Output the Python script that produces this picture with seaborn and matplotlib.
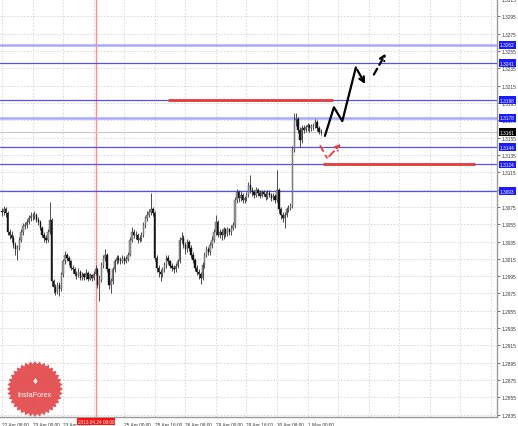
import numpy as np
import pandas as pd
import seaborn as sns
import matplotlib.pyplot as plt
from matplotlib.patches import Polygon

# H1 candles, 22 Apr 08:00 .. 1 May 00:00+ (bar index = hours, weekend skipped)
closes = [1.3069, 1.3072, 1.3068, 1.3046, 1.3043, 1.3039, 1.3031, 1.3026, 1.3028, 1.3037,
          1.3046, 1.3053, 1.3054, 1.3058, 1.3062, 1.3065, 1.3064, 1.3066, 1.3060, 1.3058,
          1.3051, 1.3043, 1.3039, 1.3037, 1.3046, 1.3060, 1.2989, 1.2982, 1.2977, 1.2985,
          1.2980, 1.2997, 1.3012, 1.3020, 1.3016, 1.3012, 1.3005, 1.3003, 1.2998, 1.2996,
          1.3000, 1.2993, 1.2997, 1.2994, 1.2999, 1.2992, 1.2996, 1.2993, 1.2998, 1.3003,
          1.2985, 1.2991, 1.3008, 1.3016, 1.3020, 1.3003, 1.2985, 1.2989, 1.3003, 1.3012,
          1.3016, 1.3014, 1.3012, 1.3016, 1.3012, 1.3015, 1.3020, 1.3037, 1.3046, 1.3043,
          1.3042, 1.3037, 1.3039, 1.3043, 1.3054, 1.3062, 1.3066, 1.3069, 1.3072, 1.3068,
          1.3016, 1.3005, 1.3000, 1.2997, 1.3003, 1.3008, 1.3016, 1.3012, 1.3007, 1.3005,
          1.3003, 1.3007, 1.3012, 1.3037, 1.3039, 1.3031, 1.3026, 1.3035, 1.3028, 1.3020,
          1.3014, 1.3005, 1.3000, 1.2997, 1.2993, 1.3008, 1.3020, 1.3026, 1.3023, 1.3031,
          1.3037, 1.3046, 1.3058, 1.3043, 1.3046, 1.3042, 1.3049, 1.3044, 1.3049, 1.3046,
          1.3051, 1.3054, 1.3083, 1.3092, 1.3085, 1.3089, 1.3083, 1.3085, 1.3089, 1.3100,
          1.3095, 1.3092, 1.3089, 1.3095, 1.3091, 1.3088, 1.3092, 1.3090, 1.3086, 1.3091,
          1.3089, 1.3085, 1.3088, 1.3083, 1.3095, 1.3072, 1.3066, 1.3062, 1.3066, 1.3072,
          1.3074, 1.3076, 1.3141, 1.3175, 1.3177, 1.3164, 1.3152, 1.3166, 1.3164, 1.3167,
          1.3169, 1.3166, 1.3168, 1.3169, 1.3173, 1.3166, 1.3162, 1.3161]
highs = [1.3074, 1.3076, 1.3075, 1.3070, 1.3050, 1.3047, 1.3042, 1.3035, 1.3031, 1.3040,
         1.3049, 1.3056, 1.3058, 1.3061, 1.3066, 1.3069, 1.3068, 1.3070, 1.3068, 1.3063,
         1.3060, 1.3053, 1.3046, 1.3042, 1.3049, 1.3081, 1.3062, 1.2992, 1.2986, 1.2988,
         1.2988, 1.3000, 1.3015, 1.3024, 1.3022, 1.3018, 1.3014, 1.3008, 1.3006, 1.3001,
         1.3004, 1.3002, 1.3000, 1.2999, 1.3003, 1.3001, 1.2999, 1.2998, 1.3001, 1.3008,
         1.3005, 1.2996, 1.3011, 1.3020, 1.3026, 1.3022, 1.3005, 1.2993, 1.3006, 1.3015,
         1.3019, 1.3019, 1.3017, 1.3019, 1.3018, 1.3018, 1.3023, 1.3040, 1.3052, 1.3049,
         1.3047, 1.3045, 1.3043, 1.3046, 1.3057, 1.3065, 1.3070, 1.3073, 1.3091, 1.3075,
         1.3070, 1.3019, 1.3008, 1.3003, 1.3006, 1.3011, 1.3020, 1.3019, 1.3014, 1.3010,
         1.3008, 1.3010, 1.3015, 1.3040, 1.3046, 1.3042, 1.3034, 1.3038, 1.3037, 1.3031,
         1.3023, 1.3016, 1.3008, 1.3003, 1.3000, 1.3011, 1.3023, 1.3030, 1.3029, 1.3034,
         1.3041, 1.3049, 1.3066, 1.3060, 1.3050, 1.3049, 1.3052, 1.3051, 1.3052, 1.3051,
         1.3054, 1.3058, 1.3086, 1.3096, 1.3094, 1.3093, 1.3091, 1.3088, 1.3092, 1.3104,
         1.3112, 1.3098, 1.3095, 1.3098, 1.3097, 1.3094, 1.3095, 1.3095, 1.3093, 1.3094,
         1.3094, 1.3091, 1.3091, 1.3090, 1.3118, 1.3097, 1.3075, 1.3069, 1.3069, 1.3075,
         1.3077, 1.3079, 1.3145, 1.3183, 1.3183, 1.3179, 1.3167, 1.3169, 1.3170, 1.3170,
         1.3172, 1.3171, 1.3171, 1.3172, 1.3177, 1.3175, 1.3168, 1.3165]
lows = [1.3065, 1.3066, 1.3063, 1.3042, 1.3038, 1.3034, 1.3027, 1.3020, 1.3014, 1.3025,
        1.3034, 1.3043, 1.3050, 1.3051, 1.3055, 1.3059, 1.3060, 1.3061, 1.3057, 1.3054,
        1.3048, 1.3040, 1.3035, 1.3033, 1.3034, 1.3044, 1.2984, 1.2976, 1.2973, 1.2974,
        1.2972, 1.2978, 1.2994, 1.3009, 1.3012, 1.3008, 1.3002, 1.2999, 1.2995, 1.2992,
        1.2994, 1.2990, 1.2991, 1.2990, 1.2992, 1.2989, 1.2990, 1.2989, 1.2991, 1.2996,
        1.2981, 1.2966, 1.2988, 1.3005, 1.3013, 1.3000, 1.2980, 1.2976, 1.2986, 1.3000,
        1.3009, 1.3010, 1.3009, 1.3010, 1.3009, 1.3010, 1.3013, 1.3018, 1.3034, 1.3039,
        1.3038, 1.3033, 1.3034, 1.3036, 1.3040, 1.3051, 1.3059, 1.3063, 1.3066, 1.3064,
        1.3012, 1.3000, 1.2994, 1.2989, 1.2994, 1.3000, 1.3005, 1.3009, 1.3004, 1.3001,
        1.2999, 1.3000, 1.3004, 1.3010, 1.3033, 1.3027, 1.3021, 1.3023, 1.3024, 1.3016,
        1.3010, 1.3001, 1.2996, 1.2992, 1.2986, 1.2990, 1.3005, 1.3017, 1.3019, 1.3020,
        1.3028, 1.3034, 1.3043, 1.3040, 1.3039, 1.3037, 1.3038, 1.3040, 1.3041, 1.3042,
        1.3043, 1.3048, 1.3051, 1.3079, 1.3081, 1.3082, 1.3079, 1.3080, 1.3082, 1.3086,
        1.3091, 1.3088, 1.3085, 1.3086, 1.3088, 1.3085, 1.3086, 1.3087, 1.3083, 1.3084,
        1.3086, 1.3082, 1.3083, 1.3080, 1.3081, 1.3068, 1.3061, 1.3057, 1.3051, 1.3063,
        1.3069, 1.3071, 1.3074, 1.3138, 1.3168, 1.3160, 1.3144, 1.3149, 1.3160, 1.3161,
        1.3163, 1.3162, 1.3163, 1.3164, 1.3166, 1.3163, 1.3159, 1.3158]
first_open = 1.3070

# levels drawn on the chart
blue_levels = [1.3262, 1.3241, 1.3198, 1.3178, 1.3144, 1.3124, 1.3093]
thick_levels = [1.3262, 1.3178]
current_price = 1.3161
red_levels = [1.3198, 1.3124]
red_starts = [87, 168]
red_ends = [173.3, 247.6]
vline_bar = 49.2

# forecast arrows (bar index, price)
main_x = [169.1, 173.8, 178.2, 185.3, 190.9]
main_y = [1.3157, 1.3190, 1.3174, 1.3236, 1.3214]
dash_x = [194.0, 201.7]
dash_y = [1.3225, 1.3255]
alt_x = [166.5, 170.3, 178.4]
alt_y = [1.3146, 1.3131, 1.3150]

# axis ticks
xtick_pos = [0, 16, 32, 64, 80, 96, 112, 128, 144, 160]
xtick_lab = ["22 Apr 08:00", "23 Apr 00:00", "23 Apr 16:00", "25 Apr 00:00",
             "25 Apr 16:00", "26 Apr 08:00", "29 Apr 00:00", "29 Apr 16:00",
             "30 Apr 08:00", "1 May 00:00"]
grid_x = list(range(0, 260, 16))
ytick_pos = [1.2835, 1.2855, 1.2875, 1.2895, 1.2915, 1.2935, 1.2955, 1.2975, 1.2995,
             1.3015, 1.3035, 1.3055, 1.3075, 1.3095, 1.3115, 1.3135, 1.3155, 1.3175,
             1.3195, 1.3215, 1.3235, 1.3255, 1.3275, 1.3295, 1.3315]

sns.set_theme(style="white")
plt.rcParams['font.family'] = ['Liberation Sans', 'DejaVu Sans']
FS = 3.4

df = pd.DataFrame({"close": closes, "high": highs, "low": lows})
df["open"] = [first_open] + closes[:-1]
df["bar"] = np.arange(len(df))
up = df["close"] >= df["open"]

fig = plt.figure(figsize=(5.18, 4.27), dpi=100)
ax = fig.add_axes([0, 1 - 418 / 427, 497 / 518, 418 / 427])
ax.set_facecolor("white")

# grid
for gx in grid_x:
    ax.axvline(gx, color="#d4d4d4", lw=0.6, ls=(0, (2, 2)), zorder=0)
for gy in ytick_pos:
    ax.axhline(gy, color="#d4d4d4", lw=0.6, ls=(0, (2, 2)), zorder=0)

# date marker line
ax.axvline(vline_bar, color="#ff8c8c", lw=1, zorder=1)

# levels
for lv in blue_levels:
    if lv in thick_levels:
        ax.axhline(lv, color="#a8a8ff", lw=1.8, zorder=1)
    else:
        ax.axhline(lv, color="#5050ff", lw=0.9, zorder=1)
ax.axhline(current_price, color="#c8c8c8", lw=0.8, zorder=1)
for lv, x0, x1 in zip(red_levels, red_starts, red_ends):
    ax.hlines(lv, x0, x1, color="#e8393c", lw=2, zorder=2)

# candles
ax.vlines(df["bar"], df["low"], df["high"], color="#303030", lw=0.6, zorder=3)
body_lo = df[["open", "close"]].min(axis=1)
body_h = (df["close"] - df["open"]).abs().clip(lower=0.00008)
ax.bar(df["bar"][up], body_h[up], bottom=body_lo[up], width=0.7,
       color="#9a9a9a", edgecolor="#505050", lw=0.3, zorder=4)
ax.bar(df["bar"][~up], body_h[~up], bottom=body_lo[~up], width=0.7,
       color="#151515", edgecolor="#151515", lw=0.3, zorder=4)

# forecast paths
sns.lineplot(x=main_x[:-1], y=main_y[:-1], sort=False, estimator=None, color="black",
             lw=1.6, ax=ax, zorder=6)
ax.annotate("", xy=(main_x[-1], main_y[-1]), xytext=(main_x[-2], main_y[-2]),
            arrowprops=dict(arrowstyle="->", color="black", lw=1.6, mutation_scale=9), zorder=6)
ax.annotate("", xy=(dash_x[-1], dash_y[-1]), xytext=(dash_x[0], dash_y[0]),
            arrowprops=dict(arrowstyle="->", color="black", lw=1.6, ls=(0, (3, 2)),
                            mutation_scale=9), zorder=6)
sns.lineplot(x=alt_x[:-1], y=alt_y[:-1], sort=False, estimator=None, color="#e8393c",
             lw=1.3, ax=ax, zorder=6, linestyle=(0, (4, 2)))
ax.annotate("", xy=(alt_x[-1], alt_y[-1]), xytext=(alt_x[-2], alt_y[-2]),
            arrowprops=dict(arrowstyle="->", color="#e8393c", lw=1.3, ls=(0, (4, 2)),
                            mutation_scale=9), zorder=6)

ax.set_xlim(-1.05, 259.2)
ax.set_ylim(1.28324, 1.33131)

# axes look
for side in ["left", "top"]:
    ax.spines[side].set_visible(False)
for side in ["right", "bottom"]:
    ax.spines[side].set_color("#9a9a9a")
    ax.spines[side].set_linewidth(1)

ax.yaxis.tick_right()
ax.set_yticks(ytick_pos, [f"{v:.4f}" for v in ytick_pos])
ax.tick_params(axis="y", length=2, width=0.5, pad=1.5, labelsize=FS,
               colors="#333333", direction="out")
ax.set_xticks(xtick_pos, xtick_lab)
ax.tick_params(axis="x", length=3, width=0.5, pad=0.8, labelsize=FS,
               colors="#333333", direction="out")
for lbl in ax.get_xticklabels():
    lbl.set_ha("left")
ax.set_xlabel("")
ax.set_ylabel("")
ax.grid(False)

# price tags on right axis
ytrans = ax.get_yaxis_transform()
for lv in blue_levels:
    ax.text(1.006, lv, f"{lv:.4f}", transform=ytrans, ha="left", va="center",
            fontsize=FS, color="white", zorder=10, clip_on=False,
            bbox=dict(boxstyle="square,pad=0.3", fc="#1a1aff", ec="none"))
ax.text(1.006, current_price, f"{current_price:.4f}", transform=ytrans, ha="left",
        va="center", fontsize=FS, color="white", zorder=10, clip_on=False,
        bbox=dict(boxstyle="square,pad=0.3", fc="black", ec="none"))

# date tag under the marker line
xtrans = ax.get_xaxis_transform()
ax.text(vline_bar, -0.0115, "2013.04.24 09:00", transform=xtrans, ha="center",
        va="center", fontsize=FS, color="white", zorder=10, clip_on=False,
        bbox=dict(boxstyle="square,pad=0.25", fc="#ff1010", ec="none"))

# InstaForex badge
cx, cy, r_out, r_in = 35 / 518, 1 - 390 / 427, 28, 25
ang = np.linspace(0, 2 * np.pi, 73)[:-1]
rad = np.where(np.arange(72) % 2 == 0, r_out, r_in)
star = np.column_stack([cx + rad * np.cos(ang) / 518, cy + rad * np.sin(ang) / 427])
fig.add_artist(Polygon(star, closed=True, transform=fig.transFigure,
                       fc="#e2474a", ec="none", alpha=0.92, zorder=20))
fig.text(cx, cy + 8 / 427, "\u2666", color="white", fontsize=7, ha="center",
         va="center", zorder=21)
fig.text(cx, cy - 6 / 427, "InstaForex", color="white", fontsize=5.2, ha="center",
         va="center", zorder=21)

fig.savefig("out.png", dpi=100, facecolor="white")
